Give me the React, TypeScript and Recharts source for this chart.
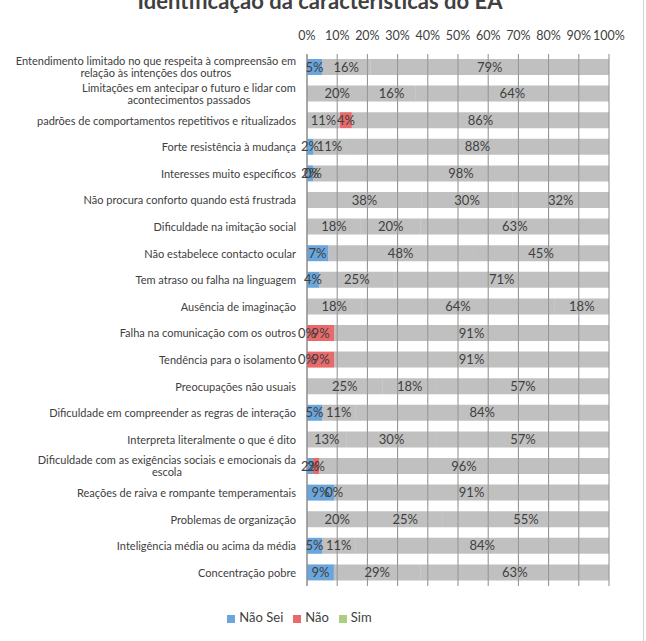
import React from 'react';
import { BarChart, Bar, XAxis, YAxis, CartesianGrid, Legend, LabelList, Cell } from 'recharts';

const categories = [
  'Entendimento limitado no que respeita à compreensão em\nrelação às intenções dos outros',
  'Limitações em antecipar o futuro e lidar com\nacontecimentos passados',
  'padrões de comportamentos repetitivos e ritualizados',
  'Forte resistência à mudança',
  'Interesses muito específicos',
  'Não procura conforto quando está frustrada',
  'Dificuldade na imitação social',
  'Não estabelece contacto ocular',
  'Tem atraso ou falha na linguagem',
  'Ausência de imaginação',
  'Falha na comunicação com os outros',
  'Tendência para o isolamento',
  'Preocupações não usuais',
  'Dificuldade em compreender as regras de interação',
  'Interpreta literalmente o que é dito',
  'Dificuldade com as exigências sociais e emocionais da\nescola',
  'Reações de raiva e rompante temperamentais',
  'Problemas de organização',
  'Inteligência média ou acima da média',
  'Concentração pobre',
];

const naoSei = [5, 20, 11, 2, 2, 38, 18, 7, 4, 18, 0, 0, 25, 5, 13, 2, 9, 20, 5, 9];
const nao = [16, 16, 4, 11, 0, 30, 20, 48, 25, 64, 9, 9, 18, 11, 30, 2, 0, 25, 11, 29];
const sim = [79, 64, 86, 88, 98, 32, 63, 45, 71, 18, 91, 91, 57, 84, 57, 96, 91, 55, 84, 63];

const seriesNames = ['Não Sei', 'Não', 'Sim'];
const tickPercents = [0, 10, 20, 30, 40, 50, 60, 70, 80, 90, 100];
const title = 'Identificação da características do EA';

const FONT = 'Lato, "Open Sans", sans-serif';
const TEXT = '#404040';
const GRAY = '#9a9a9a';
const GRAY_OPACITY = 0.62;
const BLUE = '#6aa6dc';
const RED = '#e86a6a';
const GREEN = '#a9cf7f';

const data = categories.map((name, i) => ({
  name,
  naoSei: naoSei[i],
  nao: nao[i],
  sim: sim[i],
}));

let ctx: CanvasRenderingContext2D | null = null;
function measure(s: string, font: string) {
  if (!ctx) {
    const c = document.createElement('canvas');
    ctx = c.getContext('2d');
  }
  if (!ctx) return s.length * 5.4;
  ctx.font = font;
  return ctx.measureText(s).width;
}

const YTick = (props: any) => {
  const { x, y, payload } = props;
  const lines = String(payload.value).split('\n');
  if (lines.length === 1) {
    return (
      <text x={x} y={y} dy={4} textAnchor="end" fontSize={11} fontFamily={FONT} fill={TEXT}>
        {lines[0]}
      </text>
    );
  }
  const w = measure(lines[0], `11px ${FONT}`);
  const cx = x - w / 2;
  const lh = 12;
  const start = y - ((lines.length - 1) * lh) / 2 + 4;
  return (
    <text x={cx} y={start} textAnchor="middle" fontSize={11} fontFamily={FONT} fill={TEXT}>
      {lines.map((l, i) => (
        <tspan key={i} x={cx} dy={i === 0 ? 0 : lh}>
          {l}
        </tspan>
      ))}
    </text>
  );
};

const XTick = (props: any) => {
  const { x, y, payload } = props;
  return (
    <text x={x} y={y} dy={-6} textAnchor="middle" fontSize={12.5} fontFamily={FONT} fill={TEXT}>
      {`${Math.round(payload.value * 100)}%`}
    </text>
  );
};

const labelStyle = { fill: TEXT, fontSize: 13, fontFamily: FONT };

// The LabelList value is the whole data row, so the label knows its own value
// and the preceding segment's value. A zero-width preceding segment (which
// Recharts does not render) gets its "0%" label drawn at this segment's start.
const makeLabel = (key: string, prevKey: string | null) => (props: any) => {
  const { x, y, width, height, value } = props;
  const row = value as any;
  if (!row || typeof row !== 'object') return null;
  const own = row[key];
  const prevVal = prevKey ? row[prevKey] : null;
  return (
    <g>
      {prevKey && prevVal === 0 ? (
        <text x={x} y={y + height / 2} dy={4.5} textAnchor="middle" {...labelStyle}>
          0%
        </text>
      ) : null}
      <text x={x + width / 2} y={y + height / 2} dy={4.5} textAnchor="middle" {...labelStyle}>
        {`${own}%`}
      </text>
    </g>
  );
};

const rowAccessor = (d: any) => d;

export default function App() {
  return (
    <div style={{ position: 'absolute', left: 0, top: 0, width: 646, height: 641, background: '#fff' }}>
      <BarChart
        width={646}
        height={641}
        data={data}
        layout="vertical"
        stackOffset="expand"
        margin={{ top: 34, right: 37, bottom: 39, left: 0 }}
        barSize={16}
        style={{ position: 'absolute', left: 0, top: 0 }}
      >
        <CartesianGrid horizontal={false} stroke="#8c8c8c" />
        <XAxis
          type="number"
          orientation="top"
          domain={[0, 1]}
          ticks={tickPercents.map((t) => t / 100)}
          height={20}
          axisLine={false}
          tickLine={false}
          tick={<XTick />}
          interval={0}
        />
        <YAxis
          type="category"
          dataKey="name"
          width={307}
          axisLine={{ stroke: '#8c8c8c' }}
          tickLine={false}
          tickMargin={5}
          tick={<YTick />}
          interval={0}
        />
        <Legend
          verticalAlign="bottom"
          iconType="square"
          iconSize={8}
          itemSorter={null as any}
          wrapperStyle={{ top: 609, fontFamily: FONT, fontSize: 13, color: TEXT }}
          formatter={(v: any) => <span style={{ color: TEXT }}>{v}</span>}
        />
        <Bar dataKey="naoSei" name={seriesNames[0]} stackId="a" fill={BLUE} isAnimationActive={false}>
          {data.map((d, i) => (
            <Cell key={i} fill={d.naoSei < 10 ? BLUE : GRAY} fillOpacity={d.naoSei < 10 ? 1 : GRAY_OPACITY} />
          ))}
          <LabelList dataKey={rowAccessor as any} content={makeLabel('naoSei', null)} />
        </Bar>
        <Bar dataKey="nao" name={seriesNames[1]} stackId="a" fill={RED} isAnimationActive={false}>
          {data.map((d, i) => (
            <Cell key={i} fill={d.nao < 10 ? RED : GRAY} fillOpacity={d.nao < 10 ? 1 : GRAY_OPACITY} />
          ))}
          <LabelList dataKey={rowAccessor as any} content={makeLabel('nao', 'naoSei')} />
        </Bar>
        <Bar dataKey="sim" name={seriesNames[2]} stackId="a" fill={GREEN} isAnimationActive={false}>
          {data.map((d, i) => (
            <Cell key={i} fill={GRAY} fillOpacity={GRAY_OPACITY} />
          ))}
          <LabelList dataKey={rowAccessor as any} content={makeLabel('sim', 'nao')} />
        </Bar>
      </BarChart>
      <svg width={646} height={641} style={{ position: 'absolute', left: 0, top: 0, pointerEvents: 'none' }}>
        <text x={320} y={9} textAnchor="middle" fontSize={22} fontWeight="bold" fontFamily={FONT} fill={TEXT}>
          {title}
        </text>
        <line x1={643.5} y1={0} x2={643.5} y2={641} stroke="#d0d0d0" strokeWidth={1} />
      </svg>
    </div>
  );
}
